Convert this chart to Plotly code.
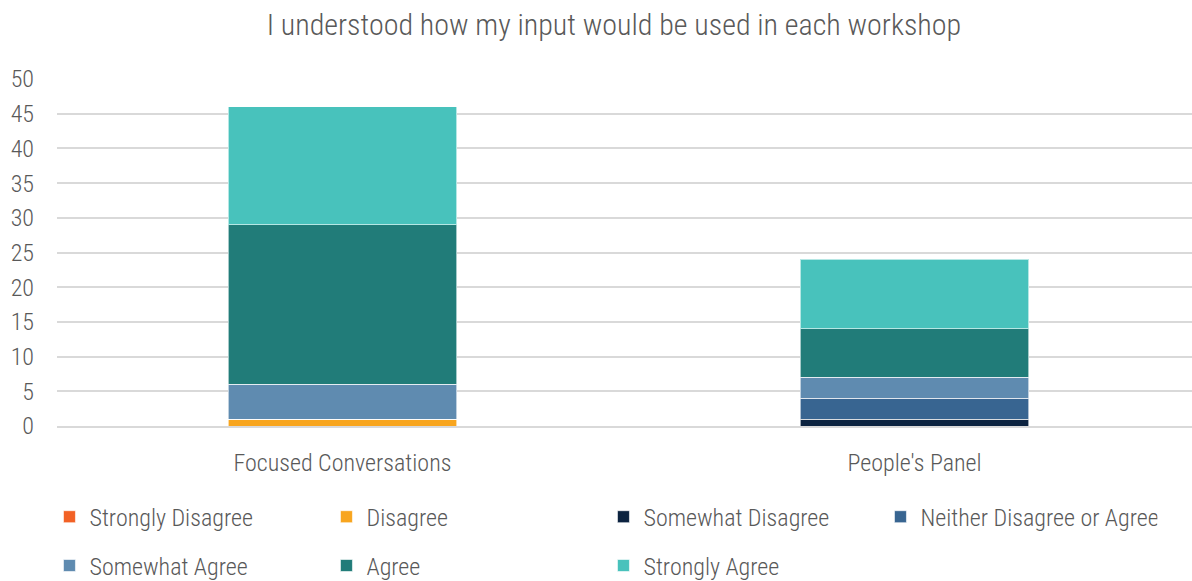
import plotly.graph_objects as go

categories = ["Focused Conversations", "People's Panel"]
series_names = ["Strongly Disagree", "Disagree", "Somewhat Disagree",
                "Neither Disagree or Agree", "Somewhat Agree", "Agree", "Strongly Agree"]
strongly_disagree = [0, 0]
disagree = [1, 0]
somewhat_disagree = [0, 1]
neither = [0, 3]
somewhat_agree = [5, 3]
agree = [23, 7]
strongly_agree = [17, 10]
y_ticks = [0, 5, 10, 15, 20, 25, 30, 35, 40, 45, 50]

values = [strongly_disagree, disagree, somewhat_disagree, neither,
          somewhat_agree, agree, strongly_agree]
colors = ["#F26125", "#F8A51E", "#0C2340", "#386591", "#5F8BB0", "#217C79", "#48C2BC"]
legend_ids = ["legend", "legend", "legend", "legend", "legend2", "legend2", "legend2"]

FONT = "Roboto Condensed, Liberation Sans Narrow, Arial Narrow, sans-serif"
TXT = "#595959"

fig = go.Figure()
for name, vals, col, lg in zip(series_names, values, colors, legend_ids):
    fig.add_trace(go.Bar(
        x=categories, y=vals, name=name, legend=lg,
        marker=dict(color=col, line=dict(color="rgba(255,255,255,0.6)", width=1)),
    ))

legend_common = dict(orientation="h", x=0.0415, xref="container", xanchor="left",
                     yanchor="middle", yref="container", entrywidth=232,
                     entrywidthmode="pixels", traceorder="normal",
                     bgcolor="rgba(0,0,0,0)",
                     font=dict(size=24, color=TXT, family=FONT, weight=300))

fig.update_layout(
    barmode="stack",
    bargap=0.6,
    width=1192, height=581,
    margin=dict(l=57, r=0, t=79, b=155),
    paper_bgcolor="white", plot_bgcolor="white",
    font=dict(family=FONT, color=TXT, size=24, weight=300),
    title=dict(text="I understood how my input would be used in each workshop",
               x=0.515, xanchor="center", y=0.957, yanchor="middle",
               font=dict(size=30, color=TXT, family=FONT, weight=300)),
    yaxis=dict(range=[0, 50], tickvals=y_ticks, showgrid=True, gridcolor="#D9D9D9",
               gridwidth=1.5, zeroline=False, showline=False,
               ticks="", ticklabelstandoff=22,
               tickfont=dict(size=24, color=TXT, family=FONT, weight=300)),
    xaxis=dict(range=[-0.499, 1.485], showline=True, linecolor="#D9D9D9", linewidth=1.5,
               ticks="", ticklabelstandoff=14,
               tickfont=dict(size=24, color=TXT, family=FONT, weight=300)),
    legend=dict(y=0.110, **legend_common),
    legend2=dict(y=0.026, **legend_common),
)

fig.write_html("out.html")
